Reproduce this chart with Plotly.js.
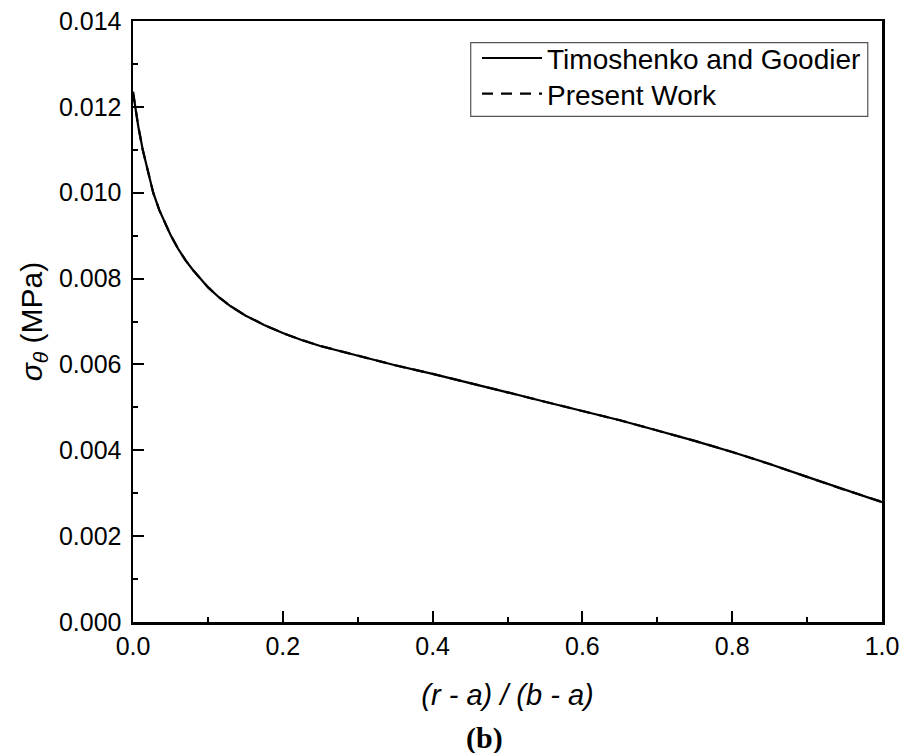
<!DOCTYPE html>
<html>
<head>
<meta charset="utf-8">
<script src="https://cdn.plot.ly/plotly-3.0.1.min.js"></script>
<style>html,body{margin:0;padding:0;background:#fff;}#chart{width:903px;height:753px;}</style>
</head>
<body>
<div id="chart"></div>
<script>
// Normalised radius (r - a)/(b - a)
var xRatio = [0, 0.003, 0.007, 0.013, 0.020, 0.027, 0.035, 0.043, 0.050, 0.060, 0.070, 0.080, 0.090, 0.100, 0.115, 0.130, 0.150, 0.175, 0.20, 0.225, 0.25, 0.30, 0.35, 0.40, 0.45, 0.50, 0.55, 0.60, 0.65, 0.70, 0.75, 0.80, 0.85, 0.90, 0.95, 1.00];
// Hoop stress sigma_theta (MPa), Timoshenko and Goodier
var sigmaTimoshenko = [0.01235, 0.01200, 0.01155, 0.01100, 0.01048, 0.01000, 0.00960, 0.00928, 0.00902, 0.00870, 0.00843, 0.00820, 0.00799, 0.00780, 0.00756, 0.00736, 0.00714, 0.00692, 0.00673, 0.00657, 0.00643, 0.00620, 0.00598, 0.00578, 0.00557, 0.00535, 0.00513, 0.00492, 0.00470, 0.00446, 0.00422, 0.00396, 0.00368, 0.00338, 0.00308, 0.00279];
// Hoop stress sigma_theta (MPa), Present Work
var sigmaPresent = [0.01235, 0.01200, 0.01155, 0.01100, 0.01048, 0.01000, 0.00960, 0.00928, 0.00902, 0.00870, 0.00843, 0.00820, 0.00799, 0.00780, 0.00756, 0.00736, 0.00714, 0.00692, 0.00673, 0.00657, 0.00643, 0.00620, 0.00598, 0.00578, 0.00557, 0.00535, 0.00513, 0.00492, 0.00470, 0.00446, 0.00422, 0.00396, 0.00368, 0.00338, 0.00308, 0.00280];
var seriesNames = ["Timoshenko and Goodier", "Present Work"];
var xTickVals = [0, 0.2, 0.4, 0.6, 0.8, 1.0];
var xTickText = ["0.0", "0.2", "0.4", "0.6", "0.8", "1.0"];
var yTickVals = [0, 0.002, 0.004, 0.006, 0.008, 0.010, 0.012, 0.014];
var yTickText = ["0.000", "0.002", "0.004", "0.006", "0.008", "0.010", "0.012", "0.014"];

var FONT = "Liberation Sans, Arial, sans-serif";

var traces = [
  {x: xRatio, y: sigmaTimoshenko, type: "scatter", mode: "lines", name: seriesNames[0],
   line: {color: "#000", width: 2.2, dash: "solid"}, legend: "legend"},
  {x: xRatio, y: sigmaPresent, type: "scatter", mode: "lines", name: seriesNames[1],
   line: {color: "#000", width: 2.2, dash: "11px,8px"}, legend: "legend2"}
];

var legendCommon = {
  xanchor: "left", yanchor: "top",
  bgcolor: "rgba(255,255,255,0)", borderwidth: 0,
  font: {family: FONT, size: 28, color: "#000"},
  itemwidth: 60
};

var layout = {
  width: 903, height: 753,
  margin: {l: 133, r: 21, t: 21, b: 131, pad: 0},
  paper_bgcolor: "#fff", plot_bgcolor: "#fff",
  font: {family: FONT, color: "#000", size: 25},
  showlegend: true,
  legend: Object.assign({x: 0.4593, y: 0.9795}, legendCommon),
  legend2: Object.assign({x: 0.4593, y: 0.9202}, legendCommon),
  shapes: [
    {type: "rect", xref: "paper", yref: "paper", x0: 0.4509, x1: 0.981, y0: 0.8414, y1: 0.9641,
     line: {color: "#555", width: 1.2}, fillcolor: "rgba(255,255,255,0)", layer: "above"}
  ],
  xaxis: {
    range: [0, 1], autorange: false,
    tickmode: "array", tickvals: xTickVals, ticktext: xTickText,
    ticks: "inside", ticklen: 11, tickwidth: 2, tickcolor: "#000",
    minor: {ticks: "inside", ticklen: 5, tickwidth: 2, tickcolor: "#000", dtick: 0.1, showgrid: false},
    showline: true, linecolor: "#000", linewidth: 2.5, mirror: true,
    showgrid: false, zeroline: false,
    tickfont: {family: FONT, size: 25, color: "#000"},
    title: {text: "<i>(r - a) / (b - a)</i>", font: {family: FONT, size: 29, color: "#000"}, standoff: 26}
  },
  yaxis: {
    range: [0, 0.014], autorange: false,
    tickmode: "array", tickvals: yTickVals, ticktext: yTickText,
    ticks: "inside", ticklen: 11, tickwidth: 2, tickcolor: "#000",
    minor: {ticks: "inside", ticklen: 5, tickwidth: 2, tickcolor: "#000", dtick: 0.001, showgrid: false},
    showline: true, linecolor: "#000", linewidth: 2.5, mirror: true,
    showgrid: false, zeroline: false,
    tickfont: {family: FONT, size: 25, color: "#000"},
    ticklabelstandoff: 4,
    title: {text: "<i>σ</i><sub><i>θ</i></sub> (MPa)", font: {family: FONT, size: 30, color: "#000"}, standoff: 8}
  },
  annotations: [
    {text: "<b>(b)</b>", xref: "paper", yref: "paper", x: 0.469, y: -0.1935,
     xanchor: "center", yanchor: "middle", showarrow: false,
     font: {family: "Liberation Serif, Times New Roman, serif", size: 30, color: "#000"}}
  ]
};

Plotly.newPlot("chart", traces, layout, {displayModeBar: false, staticPlot: true});
</script>
</body>
</html>
